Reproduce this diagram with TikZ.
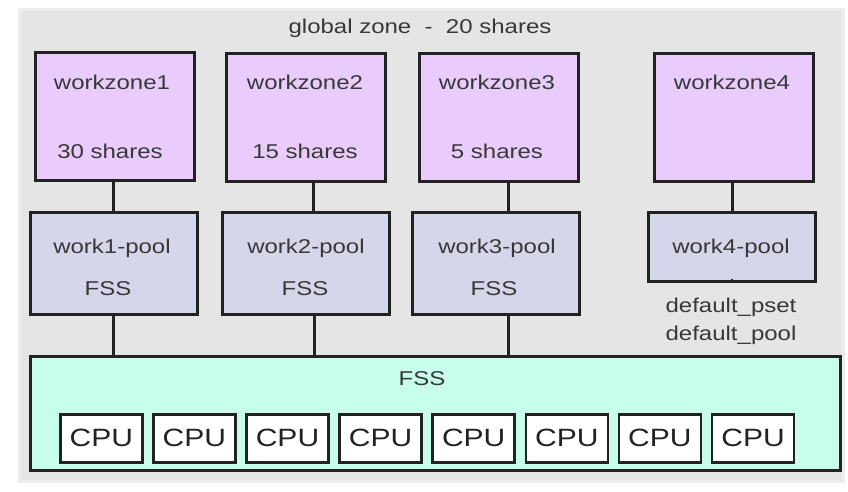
\documentclass[tikz,border=0pt]{standalone}
\usepackage{fontspec}
\setmainfont{Liberation Sans}[FakeStretch=1.2]
\definecolor{bggray}{HTML}{E5E5E5}
\definecolor{zonefill}{HTML}{E9CCFB}
\definecolor{poolfill}{HTML}{D6D6EA}
\definecolor{fssfill}{HTML}{C6FDEB}
\definecolor{txt}{HTML}{383838}
\definecolor{edge}{HTML}{222222}
\begin{document}
\begin{tikzpicture}[x=1pt,y=-1pt,
  box/.style={draw=edge,line width=2.6pt,inner sep=0pt,anchor=north west},
  zonebox/.style={box,fill=zonefill,minimum width=159pt,minimum height=128pt},
  poolbox/.style={box,fill=poolfill,minimum width=167pt,minimum height=102pt},
  cpubox/.style={box,fill=white,minimum width=82pt,minimum height=48pt,font=\fontsize{25}{28}\selectfont,text=edge},
  lbl/.style={text=txt,font=\fontsize{20}{24}\selectfont,inner sep=0pt},
  link/.style={draw=edge,line width=2.6pt}]
\useasboundingbox (0,0) rectangle (848,491);
\fill[white] (0,0) rectangle (848,491);
\fill[bggray!70] (18,8) rectangle (845,483);
\fill[bggray] (21,11) rectangle (842,480);
\node[lbl] (gz) at (420,28) {global zone \ - \ 20 shares};
% workzones
\node[zonebox] (wz1) at (34,51) {};
\node[zonebox] (wz2) at (225,52) {};
\node[zonebox] (wz3) at (418,52) {};
\node[zonebox] (wz4) at (653,52) {};
\node[lbl] (wz1t) at (112,82) {workzone1};
\node[lbl] (wz1s) at (110,151) {30 shares};
\node[lbl] (wz2t) at (305,82) {workzone2};
\node[lbl] (wz2s) at (305,151) {15 shares};
\node[lbl] (wz3t) at (497,82) {workzone3};
\node[lbl] (wz3s) at (497,151) {5 shares};
\node[lbl] (wz4t) at (732,82) {workzone4};
% pools
\node[poolbox] (p1) at (29,211) {};
\node[poolbox] (p2) at (221,211) {};
\node[poolbox] (p3) at (411,211) {};
\node[poolbox,minimum height=69pt] (p4) at (647,211) {};
\node[lbl] (p1t) at (112,248) {work1-pool};
\node[lbl] (p1f) at (108,289) {FSS};
\node[lbl] (p2t) at (306,248) {work2-pool};
\node[lbl] (p2f) at (305,289) {FSS};
\node[lbl] (p3t) at (497,248) {work3-pool};
\node[lbl] (p3f) at (494,289) {FSS};
\node[lbl] (p4t) at (731,248) {work4-pool};
\node[lbl] (dps) at (731,307) {default\_pset};
\node[lbl] (dpp) at (731,335) {default\_pool};
% FSS
\node[box,fill=fssfill,minimum width=810pt,minimum height=114pt] (fss) at (29,355) {};
\node[lbl] (fsst) at (422,379) {FSS};
\foreach \i in {0,...,7}{
  \node[cpubox] (cpu\i) at ({59+93.1*\i},413) {CPU};
}
% connectors
\draw[link] ([xshift=-1.5pt]wz1.south) -- ([xshift=-1.5pt]wz1.south |- p1.north);
\draw[link] ([xshift=7.5pt]wz2.south) -- ([xshift=7.5pt]wz2.south |- p2.north);
\draw[link] ([xshift=9.5pt]wz3.south) -- ([xshift=9.5pt]wz3.south |- p3.north);
\draw[link] ([xshift=-1.5pt]wz4.south) -- ([xshift=-1.5pt]wz4.south |- p4.north);
\draw[link] ([xshift=-0.5pt]p1.south) -- ([xshift=-0.5pt]p1.south |- fss.north);
\draw[link] ([xshift=8.5pt]p2.south) -- ([xshift=8.5pt]p2.south |- fss.north);
\draw[link] ([xshift=12.5pt]p3.south) -- ([xshift=12.5pt]p3.south |- fss.north);
\coordinate (p4tick) at ([yshift=4pt]p4.south);
\draw[draw=edge,line width=2pt] (p4.south) -- (p4tick);
\end{tikzpicture}
\end{document}
